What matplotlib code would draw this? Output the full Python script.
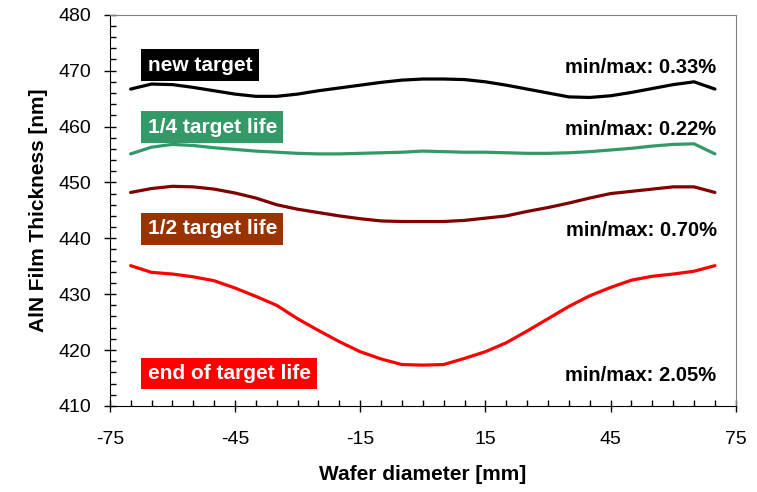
import matplotlib.pyplot as plt
import numpy as np
from matplotlib.ticker import MultipleLocator

plt.rcParams['font.family'] = ['Liberation Sans', 'DejaVu Sans']
plt.rcParams['axes.unicode_minus'] = False

x_mm = list(range(-70, 75, 5))

new_target = [466.7, 467.6, 467.5, 467.0, 466.4, 465.8, 465.4, 465.4, 465.8, 466.4,
              466.9, 467.4, 467.9, 468.3, 468.5, 468.5, 468.4, 468.0, 467.4, 466.7,
              466.0, 465.3, 465.2, 465.5, 466.1, 466.8, 467.5, 468.0, 466.7]
quarter_life = [455.1, 456.3, 456.8, 456.6, 456.2, 455.9, 455.6, 455.4, 455.2, 455.1,
                455.1, 455.2, 455.3, 455.4, 455.6, 455.5, 455.4, 455.4, 455.3, 455.2,
                455.2, 455.3, 455.5, 455.8, 456.1, 456.5, 456.8, 456.9, 455.1]
half_life = [448.2, 448.9, 449.3, 449.2, 448.8, 448.1, 447.2, 446.0, 445.2, 444.6,
             444.0, 443.5, 443.1, 443.0, 443.0, 443.0, 443.2, 443.6, 444.0, 444.8,
             445.5, 446.3, 447.2, 448.0, 448.4, 448.8, 449.2, 449.2, 448.2]
end_life = [435.1, 433.9, 433.6, 433.1, 432.4, 431.1, 429.6, 428.0, 425.6, 423.5,
            421.5, 419.7, 418.4, 417.4, 417.3, 417.4, 418.5, 419.7, 421.3, 423.4,
            425.6, 427.8, 429.7, 431.2, 432.5, 433.2, 433.6, 434.1, 435.1]

labels = ['new target', '1/4 target life', '1/2 target life', 'end of target life']
minmax = ['min/max: 0.33%', 'min/max: 0.22%', 'min/max: 0.70%', 'min/max: 2.05%']
label_y = [471.0, 459.9, 441.7, 415.8]

line_colors = ['#000000', '#339966', '#800000', '#FF0000']
box_colors = ['#000000', '#339966', '#993300', '#FF0000']

fig = plt.figure(figsize=(7.57, 4.92), dpi=100)
ax = fig.add_axes([0.145, 0.175, 0.827, 0.795])

for ys, c in zip([new_target, quarter_life, half_life, end_life], line_colors):
    ax.plot(x_mm, ys, color=c, lw=2.3, solid_capstyle='round')

# label boxes on the left, uniformity numbers on the right
for lab, mm, y, bc in zip(labels, minmax, label_y, box_colors):
    ax.text(-65.9, y, lab, color='white', fontsize=15, fontweight='bold',
            va='center', ha='left',
            bbox=dict(boxstyle='square,pad=0.3', fc=bc, ec='none'))
    ax.text(70.4, y, mm, color='black', fontsize=14.5, fontweight='bold',
            va='center_baseline', ha='right')

ax.set_xlim(-75, 75)
ax.set_ylim(410, 480)
ax.set_xticks([-75, -45, -15, 15, 45, 75])
ax.set_yticks(range(410, 481, 10))
ax.xaxis.set_minor_locator(MultipleLocator(5))
ax.yaxis.set_minor_locator(MultipleLocator(2))
ax.tick_params(which='major', direction='inout', length=8, width=1, labelsize=14)
ax.tick_params(axis='y', which='major', pad=9)
ax.tick_params(axis='x', which='major', pad=14)
ax.tick_params(which='minor', direction='in', length=4, width=1)
ax.tick_params(axis='x', which='both', top=False)
ax.tick_params(axis='y', which='both', right=False)

for s in ['top', 'right']:
    ax.spines[s].set_color('#808080')
for s in ['left', 'bottom']:
    ax.spines[s].set_color('black')

ax.set_xlabel('Wafer diameter [mm]', fontsize=15, fontweight='bold', labelpad=12)
ax.set_ylabel('AlN Film Thickness [nm]', fontsize=15, fontweight='bold', labelpad=8)

fig.savefig('out.png', dpi=100)
